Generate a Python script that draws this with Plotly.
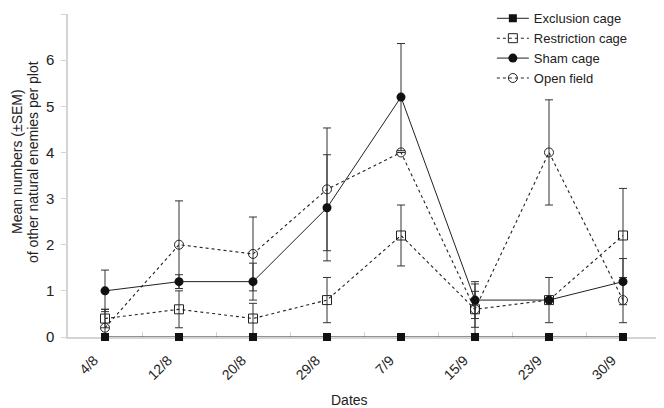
import plotly.graph_objects as go

dates = ["4/8", "12/8", "20/8", "29/8", "7/9", "15/9", "23/9", "30/9"]

exclusion = [0, 0, 0, 0, 0, 0, 0, 0]
restriction = [0.4, 0.6, 0.4, 0.8, 2.2, 0.6, 0.8, 2.2]
restriction_sem = [0.2, 0.4, 0.33, 0.49, 0.66, 0.39, 0.0, 1.02]
sham = [1.0, 1.2, 1.2, 2.8, 5.2, 0.8, 0.8, 1.2]
sham_sem = [0.45, 0.15, 0.4, 1.15, 1.16, 0.4, 0.49, 0.5]
open_field = [0.2, 2.0, 1.8, 3.2, 4.0, 0.6, 4.0, 0.8]
open_sem = [0.4, 0.95, 0.8, 1.33, 0.0, 0.55, 1.14, 0.49]

INK = "#222222"
BAR = "#333333"
AXIS = "#d4d4d4"

fig = go.Figure()


def err(vals):
    return dict(type="data", array=vals, color=BAR, thickness=1, width=4, visible=True)


fig.add_trace(go.Scatter(
    x=dates, y=restriction, name="Restriction cage", mode="lines+markers",
    line=dict(color=INK, width=1.1, dash="dot"),
    marker=dict(symbol="square-open", size=9, color=INK, line=dict(width=1)),
    error_y=err(restriction_sem), legendrank=2,
))
fig.add_trace(go.Scatter(
    x=dates, y=open_field, name="Open field", mode="lines+markers",
    line=dict(color=INK, width=1.1, dash="dot"),
    marker=dict(symbol="circle-open", size=9, color=INK, line=dict(width=1)),
    error_y=err(open_sem), legendrank=4,
))
fig.add_trace(go.Scatter(
    x=dates, y=sham, name="Sham cage", mode="lines+markers",
    line=dict(color=INK, width=1),
    marker=dict(symbol="circle", size=9, color="#111111"),
    error_y=err(sham_sem), legendrank=3,
))
fig.add_trace(go.Scatter(
    x=dates, y=exclusion, name="Exclusion cage", mode="lines+markers",
    line=dict(color=INK, width=1),
    marker=dict(symbol="square", size=8, color="#111111"),
    cliponaxis=False, legendrank=1,
))

fig.update_layout(
    width=656, height=400,
    paper_bgcolor="white", plot_bgcolor="white",
    font=dict(family="Liberation Sans, Arial, sans-serif", color=INK, size=13),
    margin=dict(l=60, r=4, t=6, b=71, autoexpand=False),
    legend=dict(
        x=0.716, xanchor="left", y=1.033, yanchor="top",
        bgcolor="rgba(0,0,0,0)", font=dict(size=13, color=INK),
        tracegroupgap=0, itemwidth=32,
    ),
    showlegend=True,
)
fig.update_xaxes(
    type="category", range=[-0.5, 7.5], automargin=False, layer="below traces",
    showline=True, linecolor=AXIS, linewidth=1.5,
    ticks="inside", tickson="boundaries", ticklen=5, tickcolor=AXIS,
    tickangle=-45, tickfont=dict(size=14, color=INK),
    ticklabelstandoff=8, ticklabelshift=-11,
    showgrid=False, zeroline=False,
)
fig.update_yaxes(
    range=[0, 7], dtick=1, automargin=False, layer="below traces",
    showline=True, linecolor=AXIS, linewidth=1.5,
    ticks="outside", ticklen=5, tickcolor=AXIS,
    tickfont=dict(size=15, color=INK), ticklabelstandoff=4,
    showgrid=False, zeroline=False,
)
fig.add_annotation(
    text="Dates", xref="paper", yref="paper", x=0.476, y=-0.195,
    xanchor="center", yanchor="middle", showarrow=False,
    font=dict(size=14, color=INK),
)
for label, xpos in (("Mean numbers (±SEM)", -0.0861),
                    ("of other natural enemies per plot", -0.0591)):
    fig.add_annotation(
        text=label, xref="paper", yref="paper", x=xpos, y=0.542, textangle=-90,
        xanchor="center", yanchor="middle", showarrow=False,
        font=dict(size=14, color=INK), borderpad=0,
    )

fig.write_html("out.html")
